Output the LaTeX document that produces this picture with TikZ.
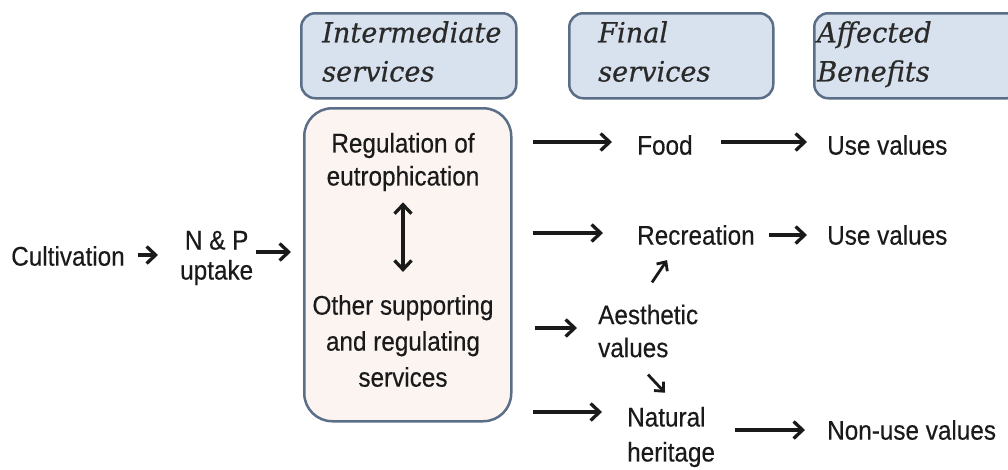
\documentclass[tikz,border=0pt]{standalone}
\usepackage{fontspec}
\setmainfont{Liberation Sans}[FakeStretch=0.9, FakeBold=0.35]
\newfontfamily\headfont{DejaVu Serif}[FakeStretch=0.97, FakeBold=0.5]
\usetikzlibrary{arrows.meta,calc}
\definecolor{ink}{HTML}{1A1A1A}
\definecolor{hdink}{HTML}{2A2A2A}
\definecolor{hdfill}{HTML}{D8E1EE}
\definecolor{hdline}{HTML}{5B6E87}
\definecolor{mainfill}{HTML}{FBF4F0}
\begin{document}
\begin{tikzpicture}[x=1pt,y=-1pt,
  txt/.style={inner sep=0pt, text=ink, align=center, font=\fontsize{27}{33}\selectfont},
  txtl/.style={txt, align=left, anchor=west},
  hdbox/.style={draw=hdline, fill=hdfill, line width=2.5pt, rounded corners=14pt,
                anchor=north west, minimum height=85pt},
  hdtxt/.style={inner sep=0pt, anchor=north west, text=hdink, align=left,
                font=\headfont\itshape\fontsize{28}{39}\selectfont},
  arr/.style={-{Straight Barb[length=9pt,width=17pt]}, line width=3.3pt, draw=ink},
  dblarr/.style={{Straight Barb[length=9pt,width=17pt]}-{Straight Barb[length=9pt,width=17pt]},
                 line width=3.3pt, draw=ink},
  arrsm/.style={-{Straight Barb[length=7pt,width=13pt]}, line width=2.8pt, draw=ink},
]
\useasboundingbox (0,0) rectangle (1008,469);

% column headers
\node[hdbox, minimum width=215pt] (hint) at (300,12) {};
\node[hdbox, minimum width=204pt] (hfin) at (568,12) {};
\node[hdbox, minimum width=207pt] (hben) at (813,12) {};
\node[hdtxt] (tint) at (322,21) {Intermediate\\services};
\node[hdtxt] (tfin) at (598,21) {Final\\services};
\node[hdtxt] (tben) at (817,21) {Affected\\Benefits};

% intermediate services box
\node[draw=hdline, fill=mainfill, line width=2.5pt, rounded corners=28pt,
      minimum width=207pt, minimum height=313pt, anchor=north west] (main) at (303,107) {};
\node[txt] (reg) at (403,162) {Regulation of\\eutrophication};
\node[txt, font=\fontsize{27}{36}\selectfont] (other) at (403,341) {Other supporting\\and regulating\\services};
\draw[dblarr] ([yshift=-11pt]reg.south) -- ([yshift=23pt]other.north);

% inputs
\node[txt] (cult) at (68,256) {Cultivation};
\node[txt, anchor=west, font=\fontsize{27}{30}\selectfont] (np) at (180,258) {N \& P\\uptake};
\draw[arr] ([xshift=13pt,yshift=1pt]cult.east) -- ([xshift=-22pt,yshift=1pt]cult.east -| np.west);
\draw[arr] ([xshift=3pt,yshift=4pt]np.east |- cult.east) -- ([xshift=-12pt,yshift=4pt]main.west |- cult.east);

% final services and benefits
\node[txtl] (food) at (637,145) {Food};
\node[txtl] (use1) at (827,145) {Use values};
\node[txtl] (rec) at (637,235) {Recreation};
\node[txtl] (use2) at (827,235) {Use values};
\node[txtl] (aes) at (598,331) {Aesthetic\\values};
\node[txtl, font=\fontsize{27}{35}\selectfont] (nat) at (627,437) {Natural\\heritage};
\node[txtl] (nonuse) at (827,430) {Non-use values};

\draw[arr] ([xshift=20pt,yshift=3pt]main.east |- food.west) -- ([xshift=-25pt,yshift=3pt]food.west);
\draw[arr] ([xshift=28pt,yshift=3pt]food.east) -- ([xshift=-20pt,yshift=3pt]use1.west);
\draw[arr] ([xshift=20pt,yshift=2pt]main.east |- rec.west) -- ([xshift=-34pt,yshift=2pt]rec.west);
\draw[arr] ([xshift=14pt]rec.east) -- ([xshift=-20pt]use2.west);
\draw[arr] ([xshift=22pt,yshift=3pt]main.east |- aes.west) -- ([xshift=-21pt,yshift=3pt]aes.west);
\draw[arr] ([xshift=20pt,yshift=25pt]main.east |- nat.west) -- ([xshift=-25pt,yshift=25pt]nat.west);
\draw[arr] ([xshift=20pt]nat.east |- nonuse.west) -- ([xshift=-22pt]nonuse.west);

% links between final services
\draw[arrsm] ($(aes.north west)+(54,-22)$) -- ($(rec.south west)+(30,15)$);
\draw[arrsm] ($(aes.south west)+(50,17)$) -- ($(nat.north west)+(38,-14)$);
\end{tikzpicture}
\end{document}
